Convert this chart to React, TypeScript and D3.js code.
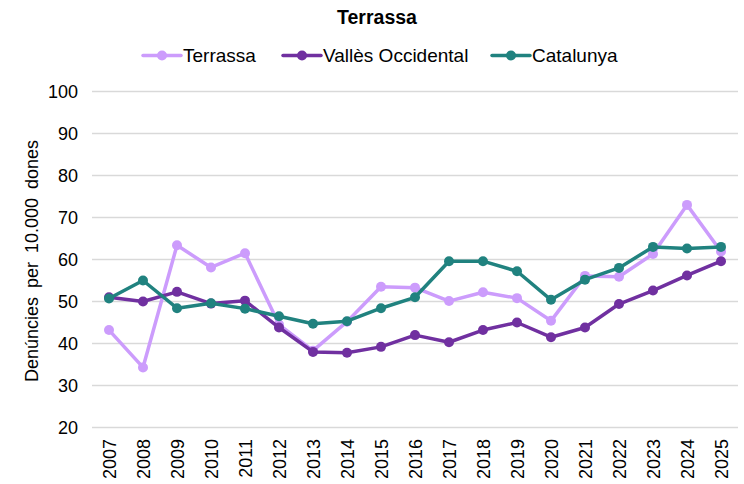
import React, { useRef, useEffect } from 'react';
import * as d3 from 'd3';

const years = ['2007', '2008', '2009', '2010', '2011', '2012', '2013', '2014', '2015', '2016',
  '2017', '2018', '2019', '2020', '2021', '2022', '2023', '2024', '2025'];

const terrassa = [43.2, 34.3, 63.4, 58.1, 61.5, 44.5, 38.3, 45.2, 53.5, 53.3,
  50.1, 52.2, 50.8, 45.4, 56.1, 55.9, 61.3, 73.0, 61.9];
const valles = [51.0, 50.0, 52.3, 49.5, 50.2, 43.8, 38.0, 37.8, 39.2, 42.0,
  40.3, 43.2, 45.0, 41.5, 43.8, 49.4, 52.6, 56.2, 59.6];
const catalunya = [50.7, 55.0, 48.4, 49.6, 48.3, 46.5, 44.7, 45.3, 48.4, 51.0,
  59.6, 59.6, 57.2, 50.4, 55.2, 58.0, 63.0, 62.6, 63.0];

const yTicks = [20, 30, 40, 50, 60, 70, 80, 90, 100];

const seriesNames = ['Terrassa', 'Vallès Occidental', 'Catalunya'];
const seriesColors = ['#cc9cfc', '#7030a0', '#20827f'];

export default function App() {
  const ref = useRef<SVGSVGElement>(null);

  useEffect(() => {
    const svg = d3.select(ref.current);
    svg.selectAll('*').remove();

    const W = 744, H = 484;
    const left = 92, right = 738, top = 91.5, bottom = 427.5;
    const font = '"Liberation Sans", Arial, sans-serif';

    const x = d3.scaleBand().domain(years).range([left, right]);
    const y = d3.scaleLinear().domain([20, 100]).range([bottom, top]);
    const cx = (yr: string) => (x(yr) as number) + x.bandwidth() / 2;

    svg.append('rect').attr('width', W).attr('height', H).attr('fill', '#fff');

    // gridlines
    svg.append('g').selectAll('line').data(yTicks).enter().append('line')
      .attr('x1', left).attr('x2', right)
      .attr('y1', d => y(d)).attr('y2', d => y(d))
      .attr('stroke', '#d9d9d9').attr('stroke-width', 1.5);

    // y tick labels
    svg.append('g').selectAll('text').data(yTicks).enter().append('text')
      .attr('x', 78).attr('y', d => y(d)).attr('dy', '0.35em')
      .attr('text-anchor', 'end').attr('font-family', font).attr('font-size', 18)
      .attr('fill', '#000').text(d => d);

    // x tick labels
    svg.append('g').selectAll('text').data(years).enter().append('text')
      .attr('transform', d => `translate(${cx(d) + 6.5},${439}) rotate(-90)`)
      .attr('text-anchor', 'end').attr('font-family', font).attr('font-size', 18)
      .attr('fill', '#000').text(d => d);

    // y axis title (wider word gaps like the source)
    svg.append('text')
      .attr('transform', `translate(38,${261}) rotate(-90)`)
      .attr('text-anchor', 'middle').attr('font-family', font).attr('font-size', 18)
      .attr('fill', '#000').attr('word-spacing', 4)
      .text('Denúncies per 10.000 dones');

    // title
    svg.append('text')
      .attr('x', 377).attr('y', 24).attr('text-anchor', 'middle')
      .attr('font-family', font).attr('font-size', 19.5).attr('font-weight', 'bold')
      .attr('fill', '#000').text('Terrassa');

    const allSeries = [terrassa, valles, catalunya];
    const line = d3.line<number>().x((_, i) => cx(years[i])).y(d => y(d));

    allSeries.forEach((vals, s) => {
      const g = svg.append('g');
      g.append('path').datum(vals).attr('d', line)
        .attr('fill', 'none').attr('stroke', seriesColors[s])
        .attr('stroke-width', 3.5).attr('stroke-linejoin', 'round');
      g.selectAll('circle').data(vals).enter().append('circle')
        .attr('cx', (_, i) => cx(years[i])).attr('cy', d => y(d))
        .attr('r', 5).attr('fill', seriesColors[s]);
    });

    // legend
    const legendX = [143, 283, 492];
    seriesNames.forEach((name, s) => {
      const g = svg.append('g').attr('transform', `translate(${legendX[s]},55.5)`);
      g.append('line').attr('x1', 0).attr('x2', 38).attr('y1', 0).attr('y2', 0)
        .attr('stroke', seriesColors[s]).attr('stroke-width', 3.5).attr('stroke-linecap', 'round');
      g.append('circle').attr('cx', 19).attr('cy', 0).attr('r', 5).attr('fill', seriesColors[s]);
      g.append('text').attr('x', 40).attr('y', 0).attr('dy', '0.36em')
        .attr('font-family', font).attr('font-size', 19).attr('fill', '#000').text(name);
    });
  }, []);

  return (
    <svg ref={ref} width={744} height={484}
      style={{ position: 'absolute', left: 0, top: 0, display: 'block' }} />
  );
}
